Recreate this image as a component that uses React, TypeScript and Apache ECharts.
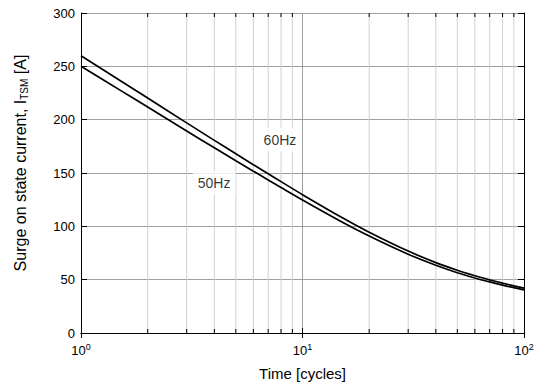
import React, { useEffect, useRef } from 'react';
import * as echarts from 'echarts';

// Axis ranges and ticks
const xMin = 1;
const xMax = 100;
const yMin = 0;
const yMax = 300;
const yInterval = 50;
const xMinorTicks = [2, 3, 4, 5, 6, 7, 8, 9, 20, 30, 40, 50, 60, 70, 80, 90];

// Curves (time in cycles, current in A)
const time = [1, 1.5, 2, 3, 4, 5, 6, 7, 8, 10, 15, 20, 30, 40, 50, 60, 70, 80, 90, 100];
const current60Hz = [260, 236.8, 220.3, 197, 180.6, 168, 157.8, 149.3, 141.9, 129.7, 108.5, 94.5, 76.8, 66, 58.8, 53.7, 49.85, 46.75, 44.2, 42];
const current50Hz = [250, 227.7, 211.8, 189.4, 173.6, 161.5, 151.7, 143.5, 136.4, 124.7, 104.3, 90.9, 73.8, 63.5, 56.5, 51.6, 47.9, 44.9, 42.5, 40.4];

// Curve annotations (name, x, y)
const labelNames = ['60Hz', '50Hz'];
const labelX = [7.91, 3.99];
const labelY = [181.4, 140.6];

const FONT = "'Liberation Sans', Arial, Helvetica, sans-serif";

export default function App() {
  const ref = useRef<HTMLDivElement>(null);

  useEffect(() => {
    const chart = echarts.init(ref.current!, null, { renderer: 'svg' });
    const toPairs = (ys: number[]) => time.map((t, i) => [t, ys[i]]);

    const option: any = {
      animation: false,
      backgroundColor: '#ffffff',
      textStyle: { fontFamily: FONT, color: '#000' },
      grid: { left: 81, right: 17, top: 13, bottom: 56, show: false },
      xAxis: [
        {
          type: 'log',
          logBase: 10,
          min: xMin,
          max: xMax,
          position: 'bottom',
          axisLine: { show: true, lineStyle: { color: '#000', width: 1 } },
          axisTick: { show: true, inside: true, length: 5, lineStyle: { color: '#000' } },
          splitLine: { show: true, lineStyle: { color: '#a0a0a0', width: 1 } },
          axisLabel: {
            show: true,
            margin: 9,
            fontFamily: FONT,
            color: '#000',
            formatter: (v: number) => `{b|10}{s|${Math.round(Math.log10(v))}}`,
            rich: {
              b: { fontSize: 13, fontFamily: FONT, color: '#000' },
              s: { fontSize: 9, fontFamily: FONT, color: '#000', padding: [0, 0, 8, 0] },
            },
          },
          name: 'Time [cycles]',
          nameLocation: 'middle',
          nameGap: 33,
          nameTextStyle: { fontSize: 15, fontFamily: FONT, color: '#000' },
        },
        {
          type: 'log',
          logBase: 10,
          min: xMin,
          max: xMax,
          position: 'top',
          axisLine: { show: true, lineStyle: { color: '#000', width: 1 } },
          axisTick: { show: true, inside: true, length: 5, lineStyle: { color: '#000' } },
          splitLine: { show: false },
          axisLabel: { show: false },
        },
      ],
      yAxis: [
        {
          type: 'value',
          min: yMin,
          max: yMax,
          interval: yInterval,
          position: 'left',
          axisLine: { show: true, lineStyle: { color: '#000', width: 1 } },
          axisTick: { show: true, inside: true, length: 6, lineStyle: { color: '#000' } },
          splitLine: { show: true, lineStyle: { color: '#a0a0a0', width: 1 } },
          axisLabel: { show: true, margin: 6, fontSize: 13, fontFamily: FONT, color: '#000' },
          name: 'Surge on state current, I{sub|TSM} [A]',
          nameLocation: 'middle',
          nameRotate: 90,
          nameGap: 52,
          nameTextStyle: {
            fontSize: 16,
            fontFamily: FONT,
            color: '#000',
            padding: [0, 0, 0, 20],
            rich: {
              sub: { fontSize: 10, fontFamily: FONT, color: '#000', padding: [8, 0, 0, 0] },
            },
          },
        },
        {
          type: 'value',
          min: yMin,
          max: yMax,
          interval: yInterval,
          position: 'right',
          axisLine: { show: true, lineStyle: { color: '#000', width: 1 } },
          axisTick: { show: true, inside: true, length: 6, lineStyle: { color: '#000' } },
          splitLine: { show: false },
          axisLabel: { show: false },
        },
      ],
      series: [
        {
          type: 'custom',
          name: 'minor',
          xAxisIndex: 0,
          yAxisIndex: 0,
          z: 1,
          silent: true,
          data: xMinorTicks.map((v) => [v, yMin]),
          encode: { x: 0, y: 1 },
          renderItem: (params: any, api: any) => {
            const v = api.value(0);
            const pb = api.coord([v, yMin]);
            const pt = api.coord([v, yMax]);
            return {
              type: 'group',
              children: [
                { type: 'line', shape: { x1: pb[0], y1: pb[1], x2: pt[0], y2: pt[1] }, style: { stroke: '#d0d0d0', lineWidth: 1 } },
                { type: 'line', shape: { x1: pb[0], y1: pb[1], x2: pb[0], y2: pb[1] - 4 }, style: { stroke: '#000', lineWidth: 1 } },
                { type: 'line', shape: { x1: pt[0], y1: pt[1], x2: pt[0], y2: pt[1] + 4 }, style: { stroke: '#000', lineWidth: 1 } },
              ],
            };
          },
        },
        {
          type: 'line',
          name: '60Hz',
          data: toPairs(current60Hz),
          smooth: 0.3,
          showSymbol: false,
          z: 3,
          lineStyle: { color: '#000', width: 1.7 },
        },
        {
          type: 'line',
          name: '50Hz',
          data: toPairs(current50Hz),
          smooth: 0.3,
          showSymbol: false,
          z: 3,
          lineStyle: { color: '#000', width: 1.7 },
        },
        {
          type: 'scatter',
          name: 'labels',
          z: 5,
          silent: true,
          symbolSize: 1,
          itemStyle: { color: 'rgba(0,0,0,0)' },
          data: labelNames.map((n, i) => ({ name: n, value: [labelX[i], labelY[i]] })),
          label: {
            show: true,
            position: 'inside',
            formatter: '{b}',
            fontSize: 14,
            fontFamily: FONT,
            color: '#000',
            backgroundColor: '#ffffff',
            padding: [5, 5],
          },
        },
      ],
    };

    chart.setOption(option);
    return () => chart.dispose();
  }, []);

  return (
    <div
      ref={ref}
      style={{ position: 'fixed', left: 0, top: 0, width: 541, height: 389 }}
    />
  );
}
